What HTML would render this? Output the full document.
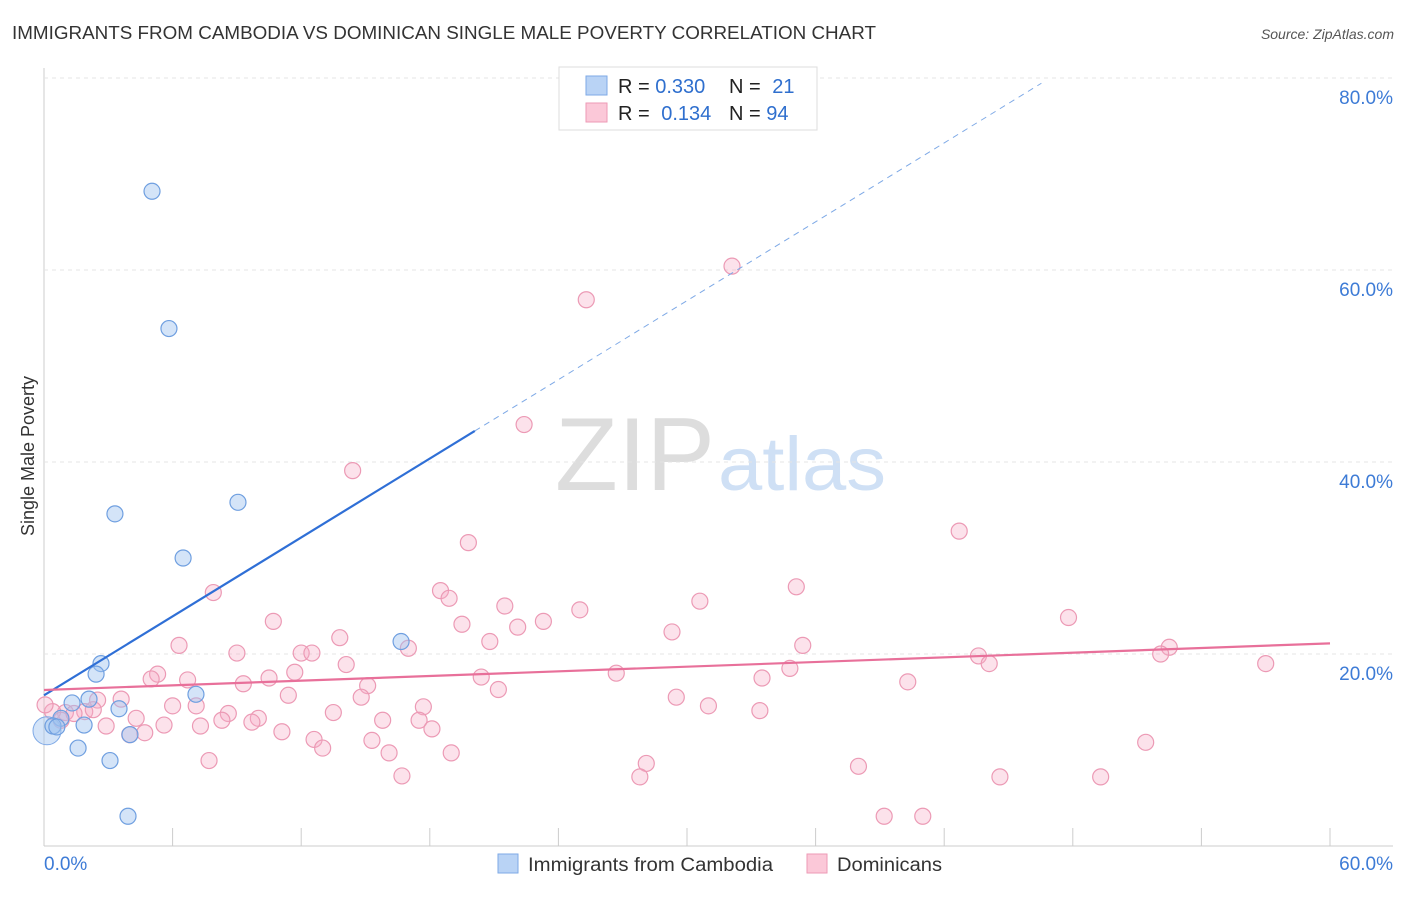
<!DOCTYPE html>
<html><head><meta charset="utf-8"><style>
body{margin:0;background:#fff;font-family:"Liberation Sans",sans-serif;}
svg text{font-family:"Liberation Sans",sans-serif;}
</style></head><body>
<svg id="c" width="1406" height="892" xmlns="http://www.w3.org/2000/svg">
<text x="12" y="39" font-size="18" fill="#333" textLength="864" lengthAdjust="spacingAndGlyphs">IMMIGRANTS FROM CAMBODIA VS DOMINICAN SINGLE MALE POVERTY CORRELATION CHART</text>
<text x="1394" y="39" font-size="14" fill="#555" font-style="italic" text-anchor="end">Source: ZipAtlas.com</text>
<text x="555" y="490" font-size="104" fill="#ddd" textLength="160" lengthAdjust="spacingAndGlyphs" font-family="Liberation Serif">ZIP</text>
<text x="718" y="490" font-size="76" fill="#cfe0f5" textLength="168" lengthAdjust="spacingAndGlyphs">atlas</text>
<text x="34" y="456" font-size="18" fill="#333" text-anchor="middle" transform="rotate(-90 34 456)">Single Male Poverty</text>
<g id="grid"></g><g id="marks"></g>
<g>
<rect x="559" y="67" width="258" height="63" fill="#fff" stroke="#ddd"/>
<rect x="586" y="76" width="21" height="19" fill="#b9d3f5" stroke="#7ea9e6"/>
<rect x="586" y="103" width="21" height="19" fill="#fbc8d8" stroke="#ee9ab6"/>
<text x="618" y="93" font-size="20" fill="#222">R = <tspan fill="#2f6fce">0.330</tspan></text>
<text x="729" y="93" font-size="20" fill="#222">N = <tspan fill="#2f6fce" dx="6">21</tspan></text>
<text x="618" y="120" font-size="20" fill="#222">R = <tspan fill="#2f6fce" dx="6">0.134</tspan></text>
<text x="729" y="120" font-size="20" fill="#222">N = <tspan fill="#2f6fce">94</tspan></text>
</g>
<g>
<rect x="498" y="854" width="20" height="19" fill="#b9d3f5" stroke="#7ea9e6"/>
<text x="528" y="871" font-size="19" fill="#333" textLength="245" lengthAdjust="spacingAndGlyphs">Immigrants from Cambodia</text>
<rect x="807" y="854" width="20" height="19" fill="#fbc8d8" stroke="#ee9ab6"/>
<text x="837" y="871" font-size="19" fill="#333" textLength="105" lengthAdjust="spacingAndGlyphs">Dominicans</text>
</g>
</svg>
<script>
const xTicks=[0,6,12,18,24,30,36,42,48,54,60];
const yTicks=[20,40,60,80];
const blueX=[5.04,5.83,3.31,9.05,6.49,2.66,2.43,16.66,7.09,2.10,1.31,3.50,0.79,1.87,0.42,1.59,3.08,4.01,3.92,0.6];
const blueY=[68.2,53.9,34.6,35.8,30.0,19.0,17.9,21.3,15.8,15.3,14.9,14.3,13.3,12.6,12.5,10.2,8.9,11.6,3.1,12.4];
const bigBlue=[0.14,12.0];
const pinkX=[32.1,25.3,22.4,14.4,42.7,19.8,35.1,18.5,18.9,7.9,21.5,30.6,25.0,47.8,10.7,19.5,23.3,22.1,29.3,13.8,20.8,6.3,35.4,17.0,52.5,52.1,9.0,12.0,12.5,43.6,44.1,57.0,14.1,34.8,5.3,11.7,26.7,5.0,6.7,10.5,20.4,33.5,40.3,9.3,15.1,21.2,11.4,14.8,29.5,3.6,2.5,6.0,7.1,17.7,31.0,33.4,1.9,1.0,8.6,13.5,4.3,10.0,8.3,9.7,15.8,17.5,2.9,5.6,7.3,18.1,11.1,4.7,4.0,12.6,15.3,13.0,16.1,19.0,51.4,7.7,28.1,38.0,27.8,16.7,44.6,49.3,39.2,41.0,0.4,0.8,1.4,2.3,0.05];
const pinkY=[60.4,56.9,43.9,39.1,32.8,31.6,27.0,26.6,25.8,26.4,25.0,25.5,24.6,23.8,23.4,23.1,23.4,22.8,22.3,21.7,21.3,20.9,20.9,20.6,20.7,20.0,20.1,20.1,20.1,19.8,19.0,19.0,18.9,18.5,17.9,18.1,18.0,17.4,17.3,17.5,17.6,17.5,17.1,16.9,16.7,16.3,15.7,15.5,15.5,15.3,15.2,14.6,14.6,14.5,14.6,14.1,14.0,13.9,13.8,13.9,13.3,13.3,13.1,12.9,13.1,13.1,12.5,12.6,12.5,12.2,11.9,11.8,11.6,11.1,11.0,10.2,9.7,9.7,10.8,8.9,8.6,8.3,7.2,7.3,7.2,7.2,3.1,3.1,14.0,13.1,13.8,14.2,14.7];
const blueTrend=[15.7,1.37];
const pinkTrend=[16.25,0.081];
const X=v=>44+v*(1286/60), Y=v=>846-v*9.6;
const NS="http://www.w3.org/2000/svg";
const grid=document.getElementById('grid'), marks=document.getElementById('marks');
function mk(p,tag,a){const e=document.createElementNS(NS,tag);for(const k in a)e.setAttribute(k,a[k]);p.appendChild(e);return e;}
let ax=mk(grid,'line',{x1:44,y1:68,x2:44,y2:846,stroke:'#ccc'});


let bx=mk(grid,'line',{x1:44,y1:846,x2:1393,y2:846,stroke:'#ccc'});


yTicks.forEach(t=>{
 let g=mk(grid,'line',{x1:44,x2:1393,y1:Y(t),y2:Y(t),stroke:'#e4e4e4','stroke-dasharray':'4,4'});
 
 
 let l=mk(grid,'text',{x:1393,y:Y(t)+26,'font-size':19,fill:'#3d7bd6','text-anchor':'end'});l.textContent=t.toFixed(1)+'%';
 
 
});
xTicks.forEach(t=>{
 let g=mk(grid,'line',{x1:X(t),x2:X(t),y1:828,y2:846,stroke:'#ccc'});
 
 
});
[[0,'start',44],[60,'end',1393]].forEach(([t,a,x])=>{
 let l=mk(grid,'text',{x:x,y:870,'font-size':19,fill:'#3d7bd6','text-anchor':a});l.textContent=t.toFixed(1)+'%';
 
 
});
pinkX.forEach((v,i)=>{
 let c=mk(marks,'circle',{cx:X(v),cy:Y(pinkY[i]),r:8,fill:'rgba(246,172,198,0.35)',stroke:'#ec9ab5','stroke-width':1.2});
 
 
});
let bb=mk(marks,'circle',{cx:X(bigBlue[0]),cy:Y(bigBlue[1]),r:14,fill:'rgba(160,195,240,0.45)',stroke:'#7ea9e6'});


blueX.forEach((v,i)=>{
 let c=mk(marks,'circle',{cx:X(v),cy:Y(blueY[i]),r:8,fill:'rgba(160,195,240,0.45)',stroke:'#6f9fe0','stroke-width':1.2});
 
 
});
const bEnd=20.1, bDash=(80-blueTrend[0])/blueTrend[1]-0.4;
let t1=mk(marks,'line',{x1:X(0),y1:Y(blueTrend[0]),x2:X(bEnd),y2:Y(blueTrend[0]+blueTrend[1]*bEnd),stroke:'#2f6fd6','stroke-width':2.2});


let t2=mk(marks,'line',{x1:X(bEnd),y1:Y(blueTrend[0]+blueTrend[1]*bEnd),x2:X(bDash),y2:Y(blueTrend[0]+blueTrend[1]*bDash),stroke:'#7ea9e6','stroke-width':1,'stroke-dasharray':'6,5'});


let t3=mk(marks,'line',{x1:X(0),y1:Y(pinkTrend[0]),x2:X(60),y2:Y(pinkTrend[0]+pinkTrend[1]*60),stroke:'#e8709a','stroke-width':2.2});


</script>
</body></html>
